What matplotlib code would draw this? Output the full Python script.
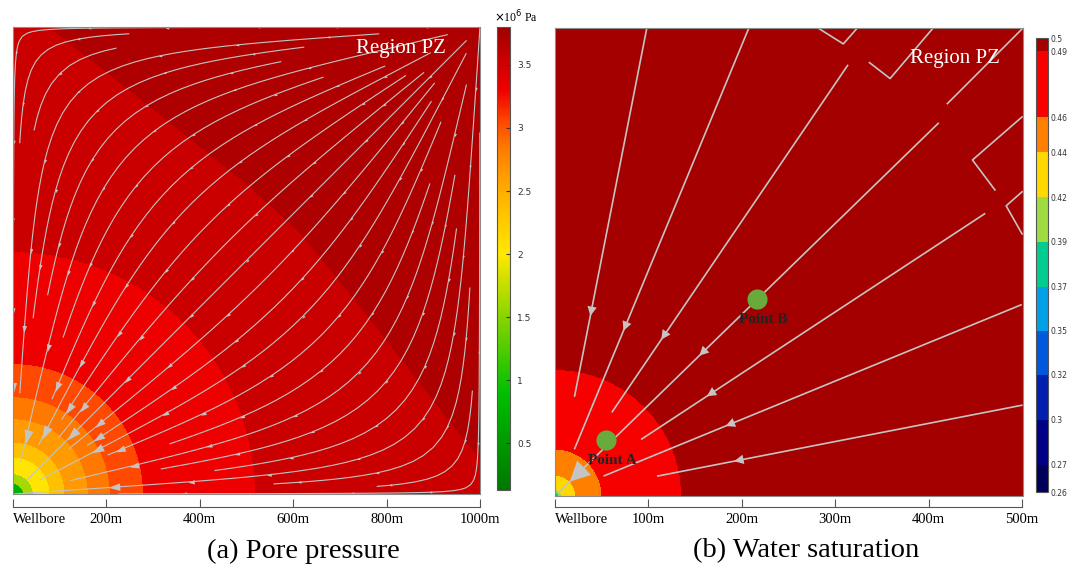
import numpy as np
import matplotlib
matplotlib.use("Agg")
import matplotlib.pyplot as plt
from matplotlib.colors import LinearSegmentedColormap, ListedColormap, BoundaryNorm, Normalize
from matplotlib.patches import FancyArrowPatch
from matplotlib.markers import MarkerStyle
from matplotlib.path import Path

# ---------------- (a) pore pressure, x10^6 Pa ----------------
# ring edges around the wellbore (m) and the pressure on each edge
ring_r = [0, 22, 43, 79, 111, 161, 208, 279, 518, 1500]
ring_p = [0.13, 1.4, 1.85, 2.2, 2.5, 2.75, 2.95, 3.15, 3.45, 3.62]
p_top = 3.8
# edge of the high pressure zone near the far corner (m)
dark_x = [75, 230, 400, 507, 615, 720, 829, 957, 1000]
dark_y = [1000, 880, 743, 657, 558, 430, 291, 127, 75]
# colour table of the pressure bar
p_nodes = [0.13, 0.9, 1.6, 2.0, 2.35, 2.63, 2.85, 3.05, 3.3, 3.53, 3.8]
p_colors = ['#007800', '#00c000', '#a0d800', '#ffe800', '#ffc000', '#ff9c00',
            '#ff7800', '#ff4800', '#f00000', '#cc0000', '#a00000']
p_ticks = [0.5, 1, 1.5, 2, 2.5, 3, 3.5]
x_ticks_a = [0, 200, 400, 600, 800, 1000]
x_labels_a = ['Wellbore', '200m', '400m', '600m', '800m', '1000m']
n_stream_a = 25

# ---------------- (b) water saturation ----------------
sat_r = [0, 2, 4, 7, 22, 50, 135, 710]
sat_v = [0.3452, 0.3684, 0.3922, 0.4159, 0.4397, 0.4582, 0.4931, 0.50]
sat_bounds = [0.26, 0.2743, 0.2981, 0.3219, 0.3452, 0.3684, 0.3922, 0.4159,
              0.4397, 0.4582, 0.4931, 0.50]
sat_labels = ['0.26', '0.27', '0.3', '0.32', '0.35', '0.37', '0.39', '0.42',
              '0.44', '0.46', '0.49', '0.5']
sat_colors = ['#00005a', '#000088', '#0020b0', '#0058dc', '#00a0e6', '#00cc90',
              '#a0dc40', '#ffd800', '#ff8000', '#f70000', '#a40000']
x_ticks_b = [0, 100, 200, 300, 400, 500]
x_labels_b = ['Wellbore', '100m', '200m', '300m', '400m', '500m']

# streamlines in (b): direction (deg), inner end, outer end (m)
line_ang = [78.9, 67.5, 55.8, 44.2, 45.0, 33.3, 22.3, 11.0]
line_r0 = [108, 54, 108, 5, 592, 110, 56, 111]
line_r1 = [510, 542, 557, 572, 706, 550, 539, 509]
# arrow heads: which line, distance of the tip from the wellbore (m)
arrow_line = [0, 1, 2, 3, 3, 5, 6, 7]
arrow_at = [196, 191, 202, 215, 22, 194, 197, 195]
# broken bits of streamline near the top right corner (m)
kink_x = [[281, 308, 323], [336, 358, 404], [499, 446, 470], [499, 482, 499]]
kink_y = [[500, 483, 500], [463, 446, 500], [405, 359, 327], [325, 310, 280]]

point_x = [54.5, 215.3]
point_y = [59.5, 211.0]
point_names = ['Point A', 'Point B']

W, H = 1067, 570
fig = plt.figure(figsize=(W / 100, H / 100), dpi=100)
serif = 'Liberation Serif'
line_col = '#c4c4c4'
head = Path([(0.5, 0), (-0.5, 0.33), (-0.5, -0.33), (0.5, 0)],
            [Path.MOVETO, Path.LINETO, Path.LINETO, Path.CLOSEPOLY])


def frame(ax):
    for s in ax.spines.values():
        s.set_color('#8c8c8c')
        s.set_linewidth(0.8)
    ax.set_xticks([])
    ax.set_yticks([])


def x_strip(left, width, ticks, labels, xmax):
    axx = fig.add_axes([left / W, 1 - 507 / H, width / W, 0.0001])
    for k in ['top', 'left', 'right']:
        axx.spines[k].set_visible(False)
    axx.spines['bottom'].set_color('#555555')
    axx.set_xlim(0, xmax)
    axx.set_yticks([])
    axx.set_xticks(ticks)
    axx.set_xticklabels(labels, fontfamily=serif, fontsize=10.5)
    axx.tick_params(axis='x', direction='in', length=6, color='#555555', pad=4)
    axx.get_xticklabels()[0].set_horizontalalignment('left')
    return axx


# ================= panel (a) =================
ax_a = fig.add_axes([13 / W, 1 - 494 / H, 467 / W, 467 / H])
p_cmap = LinearSegmentedColormap.from_list(
    'press', list(zip((np.array(p_nodes) - p_nodes[0]) / (p_nodes[-1] - p_nodes[0]), p_colors)))
p_norm = Normalize(p_nodes[0], p_nodes[-1])

g = np.linspace(0, 1000, 500)
X, Y = np.meshgrid(g, g)
P = np.interp(np.hypot(X, Y), ring_r, ring_p)
ax_a.contourf(X, Y, P, levels=ring_p, cmap=p_cmap, norm=p_norm)
ax_a.fill(dark_x + [1000], dark_y + [1000],
          color=p_cmap(p_norm((ring_p[-1] + p_top) / 2)), lw=0)

# flow: wellbore at the near corner, fed from the far corner, walls mirrored
gs = np.linspace(0, 1000, 200)
SX, SY = np.meshgrid(gs, gs)
U = np.zeros_like(SX)
V = np.zeros_like(SY)
for m in range(-4, 5):
    for n in range(-4, 5):
        for cx, cy, q in [(2000 * m, 2000 * n, -1.0), (2000 * m + 1000, 2000 * n + 1000, 1.0)]:
            if q > 0 and (m == 4 or n == 4):
                continue
            dx = SX - cx
            dy = SY - cy
            d2 = dx ** 2 + dy ** 2 + 1.0
            U += q * dx / d2
            V += q * dy / d2

# seeds along the middle diagonal, fed in a mixed order so lines stop at different radii
t = 1000 * (np.arange(n_stream_a) + 0.5) / n_stream_a
order = np.r_[np.arange(0, n_stream_a, 3), np.arange(1, n_stream_a, 3), np.arange(2, n_stream_a, 3)]
seeds = np.column_stack([t[order], 1000 - t[order]])
strm = ax_a.streamplot(gs, gs, U, V, start_points=seeds, density=1.2, color=line_col,
                       linewidth=0.8, arrowsize=0.1, integration_direction='both')
for p in list(ax_a.patches):
    if isinstance(p, FancyArrowPatch):
        p.remove()

# collect each streamline as one path and put arrow heads along it, bigger near the well
paths = []
for sg in strm.lines.get_segments():
    sg = np.asarray(sg)
    if paths and len(sg) == 2 and np.allclose(sg[0], paths[-1][-1]):
        paths[-1] = np.vstack([paths[-1], sg[1:]])
    else:
        paths.append(sg)
step = 180.0
for pth in paths:
    d = np.r_[0, np.cumsum(np.hypot(*np.diff(pth, axis=0).T))]
    for s in np.arange(step * 0.6, d[-1] - 15, step):
        i = int(np.searchsorted(d, s))
        if i < 1 or i >= len(pth):
            continue
        a, b = pth[i - 1], pth[i]
        r = np.hypot(*b)
        if r < 40:
            continue
        ang = np.degrees(np.arctan2(b[1] - a[1], b[0] - a[0]))
        ms = float(np.clip(1800.0 / r, 2.5, 10))
        ax_a.plot([b[0]], [b[1]], ls='none', marker=MarkerStyle(head).rotated(deg=ang),
                  ms=ms, color=line_col, mec='none')

ax_a.set_xlim(0, 1000)
ax_a.set_ylim(0, 1000)
frame(ax_a)
ax_a.text(0.83, 0.955, 'Region PZ', transform=ax_a.transAxes, ha='center', va='center',
          color='white', fontfamily=serif, fontsize=15)

cax_a = fig.add_axes([497 / W, 1 - 490 / H, 13 / W, 463 / H])
cb_a = fig.colorbar(plt.cm.ScalarMappable(norm=p_norm, cmap=p_cmap), cax=cax_a, ticks=p_ticks)
cb_a.ax.set_yticklabels(['0.5', '1', '1.5', '2', '2.5', '3', '3.5'])
cb_a.ax.tick_params(labelsize=6.5, length=3, direction='in', colors='#333333', pad=5)
cb_a.outline.set_edgecolor('#555555')
cb_a.outline.set_linewidth(0.8)
fig.text(494 / W, 1 - 17 / H, r'$\times$10$^6$ Pa', fontfamily=serif, fontsize=8.5,
         va='center', ha='left')

x_strip(13, 467, x_ticks_a, x_labels_a, 1000)
fig.text(303 / W, 1 - 551 / H, '(a) Pore pressure', fontfamily=serif, fontsize=20.5,
         ha='center', va='center')

# ================= panel (b) =================
ax_b = fig.add_axes([555 / W, 1 - 496 / H, 468 / W, 468 / H])
s_cmap = ListedColormap(sat_colors)
s_norm = BoundaryNorm(sat_bounds, s_cmap.N)
gb = np.linspace(0, 500, 800)
XB, YB = np.meshgrid(gb, gb)
S = np.interp(np.hypot(XB, YB), sat_r, sat_v)
ax_b.contourf(XB, YB, S, levels=sat_bounds, cmap=s_cmap, norm=s_norm)

for ang, r0, r1 in zip(line_ang, line_r0, line_r1):
    c, s = np.cos(np.radians(ang)), np.sin(np.radians(ang))
    ax_b.plot([r0 * c, r1 * c], [r0 * s, r1 * s], color=line_col, lw=1.2,
              solid_capstyle='butt')
for k, ra in zip(arrow_line, arrow_at):
    c, s = np.cos(np.radians(line_ang[k])), np.sin(np.radians(line_ang[k]))
    big = ra < 60
    tail = ra + (30 if big else 12)
    ax_b.add_patch(FancyArrowPatch((tail * c, tail * s), (ra * c, ra * s),
                                   arrowstyle='-|>', mutation_scale=36 if big else 17,
                                   color=line_col, lw=0, shrinkA=0, shrinkB=0))
for kx, ky in zip(kink_x, kink_y):
    ax_b.plot(kx, ky, color=line_col, lw=1.2)

ax_b.plot(point_x, point_y, 'o', ms=14.5, color='#68aa3c', mec='none')
for px, py, name in zip(point_x, point_y, point_names):
    ax_b.text(px + 7, py - 22, name, ha='center', va='center', fontfamily=serif,
              fontsize=11, fontweight='bold', color='#222222')
ax_b.set_xlim(0, 500)
ax_b.set_ylim(0, 500)
frame(ax_b)
ax_b.text(0.855, 0.935, 'Region PZ', transform=ax_b.transAxes, ha='center', va='center',
          color='white', fontfamily=serif, fontsize=15)

cax_b = fig.add_axes([1036 / W, 1 - 492 / H, 12 / W, 454 / H])
cb_b = fig.colorbar(plt.cm.ScalarMappable(norm=s_norm, cmap=s_cmap), cax=cax_b,
                    ticks=sat_bounds, spacing='proportional')
cb_b.ax.set_yticklabels(sat_labels)
cb_b.ax.tick_params(labelsize=5.5, length=0, colors='#333333', pad=2)
cb_b.outline.set_edgecolor('#555555')
cb_b.outline.set_linewidth(0.8)

x_strip(555, 467, x_ticks_b, x_labels_b, 500)
fig.text(806 / W, 1 - 551 / H, '(b) Water saturation', fontfamily=serif, fontsize=20.5,
         ha='center', va='center')

fig.savefig('out.png', dpi=100)
